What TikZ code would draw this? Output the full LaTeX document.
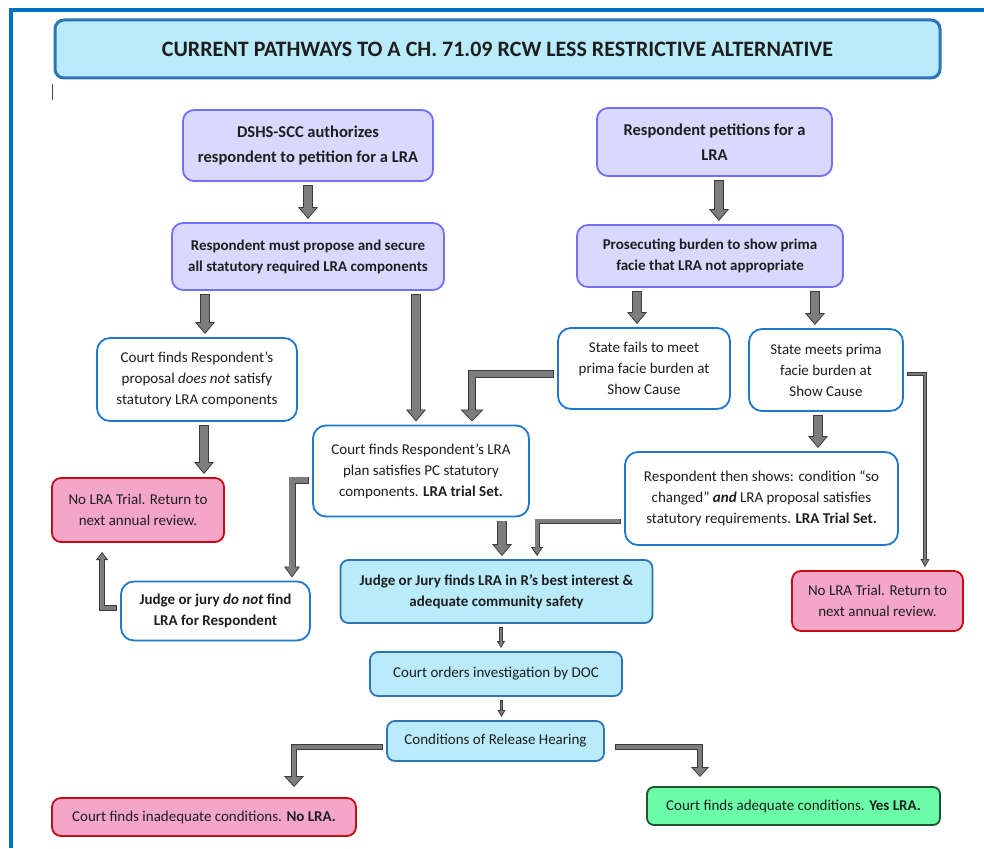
\documentclass[tikz,border=0pt]{standalone}
\usepackage{fontspec}
\setmainfont{Carlito}
\usetikzlibrary{arrows.meta}

\definecolor{framecol}{RGB}{0,112,192}
\definecolor{cyanfill}{RGB}{185,235,251}
\definecolor{cyanedge}{RGB}{46,117,182}
\definecolor{lavfill}{RGB}{217,217,255}
\definecolor{lavedge}{RGB}{112,112,250}
\definecolor{blueedge}{RGB}{30,120,205}
\definecolor{pinkfill}{RGB}{244,166,200}
\definecolor{redge}{RGB}{200,10,20}
\definecolor{greenfill}{RGB}{108,253,168}
\definecolor{greenedge}{RGB}{30,85,45}
\definecolor{arrfill}{RGB}{125,125,125}
\definecolor{arredge}{RGB}{60,60,60}
\definecolor{txt}{RGB}{30,30,30}

\tikzset{
  basebox/.style={align=center, inner sep=0pt, outer sep=4pt, line width=1.8pt, text=txt,
    font=\fontsize{15}{21}\selectfont},
  boxsize/.style 2 args={minimum width=#1pt, minimum height=#2pt},
  titlebox/.style={basebox, fill=cyanfill, draw=cyanedge, line width=3pt, rounded corners=9pt,
    font=\fontsize{22}{26}\selectfont\bfseries},
  purplebox/.style={basebox, fill=lavfill, draw=lavedge, rounded corners=11pt,
    font=\fontsize{15}{21}\selectfont\bfseries},
  bigtext/.style={font=\fontsize{16.5}{24.5}\selectfont\bfseries},
  boldtext/.style={font=\fontsize{15}{21}\selectfont\bfseries},
  whitebox/.style={basebox, fill=white, draw=blueedge, rounded corners=13pt},
  redbox/.style={basebox, fill=pinkfill, draw=redge, rounded corners=9pt},
  cyanbox/.style={basebox, fill=cyanfill, draw=cyanedge, rounded corners=8pt},
  greenbox/.style={basebox, fill=greenfill, draw=greenedge, rounded corners=7pt},
  % shaft width, head width, head length
  blockarr/.style n args={3}{
    preaction={draw=arredge, line width=#1pt, shorten <=0pt, shorten >=0pt,
      -{Triangle[width=#2pt, length=#3pt, line width=0.8pt, fill=arrfill]}},
    draw=arrfill, line width=#1pt-1.6pt, shorten <=0.8pt, shorten >=#3pt-1.2pt},
  bigarr/.style={blockarr={9.5}{20}{12}},
  thinarr/.style={blockarr={3.5}{8}{7}},
}

\begin{document}
\begin{tikzpicture}[x=1pt, y=-1pt]
  \useasboundingbox (0,0) rectangle (984,848);
  %% page frame
  \draw[framecol, line width=4pt] (11,848) -- (11,10) -- (984,10);
  \draw[black!70, line width=0.8pt] (52,84) -- (52,100);

  \node[titlebox, boxsize={885}{58}] (title) at (497.5,49)
    {CURRENT PATHWAYS TO A CH. 71.09 RCW LESS RESTRICTIVE ALTERNATIVE};

  %% top row
  \node[purplebox, bigtext, boxsize={250}{71}] (dshs) at (308,145.5)
    {DSHS-SCC authorizes\\respondent to petition for a LRA};
  \node[purplebox, bigtext, boxsize={235}{68}] (petit) at (714.5,142)
    {Respondent petitions for a\\LRA};
  \node[purplebox, boxsize={272}{67}] (must) at (308,256.5)
    {Respondent must propose and secure\\all statutory required LRA components};
  \node[purplebox, boxsize={266}{62}] (burden) at (710,256)
    {Prosecuting burden to show prima\\facie that LRA not appropriate};

  %% findings
  \node[whitebox, boxsize={200}{83}] (notsat) at (197,379.5)
    {Court finds Respondent's\\proposal \textit{does not} satisfy\\statutory LRA components};
  \node[whitebox, boxsize={172}{81}] (fails) at (644,368.5)
    {State fails to meet\\prima facie burden at\\Show Cause};
  \node[whitebox, boxsize={154}{82}] (meets) at (826,370)
    {State meets prima\\facie burden at\\Show Cause};
  \node[whitebox, boxsize={216}{91}] (plan) at (421,471)
    {Court finds Respondent's LRA\\plan satisfies PC statutory\\components. \textbf{LRA trial Set.}};
  \node[redbox, boxsize={172}{64}] (nolra1) at (138,510)
    {No LRA Trial. Return to\\next annual review.};
  \node[whitebox, boxsize={273}{93}] (shows) at (761.5,498.5)
    {Respondent then shows: condition “so\\changed” \textbf{\textit{and}} LRA proposal satisfies\\statutory requirements. \textbf{LRA Trial Set.}};
  \node[whitebox, boldtext, boxsize={189}{59}] (donot) at (215.5,611)
    {Judge or jury \textit{do not} find\\LRA for Respondent};
  \node[cyanbox, boldtext, boxsize={312}{63}] (best) at (496.5,591.5)
    {Judge or Jury finds LRA in R's best interest \&\\adequate community safety};
  \node[redbox, boxsize={171}{60}] (nolra2) at (877.5,601)
    {No LRA Trial. Return to\\next annual review.};

  %% hearing
  \node[cyanbox, boxsize={252}{44}] (invest) at (496,674)
    {Court orders investigation by DOC};
  \node[cyanbox, boxsize={217}{40}] (hearing) at (495.5,741)
    {Conditions of Release Hearing};
  \node[redbox, boxsize={304}{38}] (inadeq) at (204,817)
    {Court finds inadequate conditions. \textbf{No LRA.}};
  \node[greenbox, boxsize={293}{38}] (adeq) at (793.5,806)
    {Court finds adequate conditions. \textbf{Yes LRA.}};

  %% arrows
  \draw[bigarr] (dshs.south) -- (must.north);
  \draw[bigarr] ([xshift=4.5pt]petit.south) -- ([xshift=4.5pt]petit.south |- burden.north);
  \draw[bigarr] ([xshift=8pt]notsat.north |- must.south) -- ([xshift=8pt]notsat.north);
  \draw[bigarr] ([xshift=-5pt]plan.north |- must.south) -- ([xshift=-5pt]plan.north);
  \draw[bigarr] ([xshift=-7pt]fails.north |- burden.south) -- ([xshift=-7pt]fails.north);
  \draw[bigarr] ([xshift=-11pt]meets.north |- burden.south) -- ([xshift=-11pt]meets.north);
  \draw[bigarr] ([xshift=7pt]notsat.south) -- ([xshift=7pt]notsat.south |- nolra1.north);
  \draw[bigarr] ([xshift=-8pt]meets.south) -- ([xshift=-8pt]meets.south |- shows.north);
  \draw[bigarr] ([xshift=5.5pt]best.north |- plan.south) -- ([xshift=5.5pt]best.north);
  %% elbows
  \draw[blockarr={8}{23}{12}] ([yshift=-5.5pt]fails.west) -| ([xshift=51pt]plan.north);
  \draw[blockarr={4}{9}{8}] ([yshift=-4pt]meets.east) -| ([xshift=47.5pt]nolra2.north);
  \draw[blockarr={7}{16}{11}] ([yshift=-9pt]plan.west) -| ([xshift=76.5pt]donot.north);
  \draw[blockarr={6}{12}{8}] ([yshift=3pt]donot.west) -| ([xshift=-36pt,yshift=-6pt]nolra1.south);
  \draw[blockarr={5}{12}{9}] ([yshift=-22.5pt]shows.west) -| ([xshift=40.5pt]best.north);
  %% bottom
  \draw[thinarr] ([xshift=4.5pt]best.south) -- ([xshift=4.5pt]best.south |- invest.north);
  \draw[thinarr] ([xshift=5.5pt]invest.south) -- ([xshift=5.5pt]invest.south |- hearing.north);
  \draw[blockarr={5.5}{20}{11}] ([yshift=-6pt]hearing.west) -| ([xshift=90pt,yshift=7pt]inadeq.north);
  \draw[blockarr={5.5}{18}{10}] ([xshift=7pt,yshift=-6pt]hearing.east) -| ([xshift=-93.5pt,yshift=6pt]adeq.north);
\end{tikzpicture}
\end{document}
